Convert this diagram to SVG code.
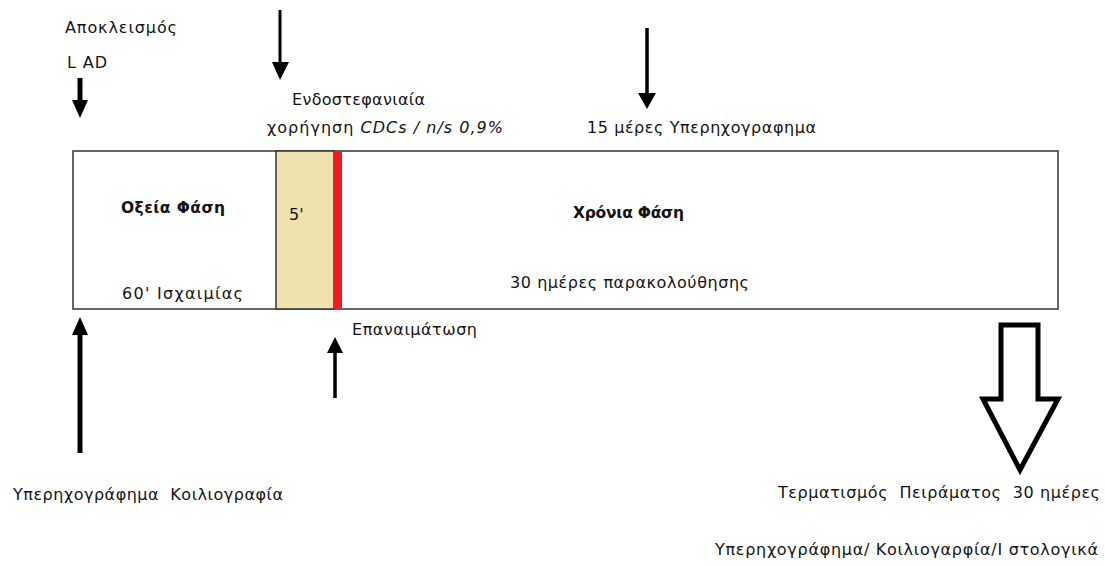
<svg xmlns="http://www.w3.org/2000/svg" width="1105" height="566" viewBox="0 0 1105 566">
<style>
text{font-family:"DejaVu Sans","Noto Sans",sans-serif;font-size:16px;fill:#141414}
.b{font-weight:bold;font-size:15.5px}
.it{font-style:italic}
.frame{fill:#fff;stroke:#333;stroke-width:1.5}
.head{fill:#000}
.shaft{stroke:#000}
</style>
<rect width="1105" height="566" fill="#fff"/>
<g id="timeline">
<rect class="frame" x="73" y="151" width="985" height="158"/>
</g>
<g id="phase-5min">
<rect x="276" y="151" width="58" height="158" fill="#EFE2B0" stroke="#333" stroke-width="1.5"/>
<text x="289" y="220">5'</text>
</g>
<g id="reperfusion-bar">
<rect x="334" y="151" width="8" height="158" fill="#ED1C24"/>
</g>
<g id="acute-phase">
<text class="b" x="121" y="213" textLength="104" lengthAdjust="spacing">Οξεία Φάση</text>
<text x="122" y="299" textLength="121" lengthAdjust="spacing">60' Ισχαιμίας</text>
</g>
<g id="chronic-phase">
<text class="b" x="573" y="218" textLength="111" lengthAdjust="spacing">Χρόνια Φάση</text>
<text x="510" y="288" textLength="239" lengthAdjust="spacing">30 ημέρες παρακολούθησης</text>
</g>
<g id="lad-label">
<text x="65" y="33" textLength="112" lengthAdjust="spacing">Αποκλεισμός</text>
<text x="67" y="68" textLength="40" lengthAdjust="spacing">L AD</text>
</g>
<g id="cdc-label">
<text x="292" y="105" textLength="133" lengthAdjust="spacing">Ενδοστεφανιαία</text>
<text x="267" y="133" textLength="236" lengthAdjust="spacing">χορήγηση <tspan class="it">CDCs / n/s 0,9%</tspan></text>
</g>
<g id="echo15-label">
<text x="587" y="133" textLength="229" lengthAdjust="spacing">15 μέρες Υπερηχογραφημα</text>
</g>
<g id="reperfusion-label">
<text x="352" y="335" textLength="125" lengthAdjust="spacing">Επαναιμάτωση</text>
</g>
<g id="baseline-label">
<text x="13" y="500" textLength="270" lengthAdjust="spacing" xml:space="preserve">Υπερηχογράφημα  Κοιλιογραφία</text>
</g>
<g id="end-label">
<text x="778" y="498" textLength="322" lengthAdjust="spacing" xml:space="preserve">Τερματισμός  Πειράματος  30 ημέρες</text>
<text x="715" y="555" textLength="383" lengthAdjust="spacing">Υπερηχογράφημα/ Κοιλιογαρφία/Ι στολογικά</text>
</g>
<g id="connectors">
<line class="shaft" x1="80" y1="78" x2="80" y2="102" stroke-width="5"/>
<polygon class="head" points="72,100 88,100 80,118"/>
<line class="shaft" x1="280" y1="10" x2="280" y2="64" stroke-width="3"/>
<polygon class="head" points="272,62 289,62 280,80"/>
<line class="shaft" x1="647" y1="28" x2="647" y2="95" stroke-width="3.5"/>
<polygon class="head" points="638,93 656,93 647,109"/>
<line class="shaft" x1="80" y1="453" x2="80" y2="333" stroke-width="5"/>
<polygon class="head" points="72,335 88,335 80,317"/>
<line class="shaft" x1="335" y1="398" x2="335" y2="351" stroke-width="3.5"/>
<polygon class="head" points="327,353 343,353 335,337"/>
<polygon points="1001,325 1038,325 1038,399 1058,399 1020,470 983,399 1001,399" fill="#fff" stroke="#000" stroke-width="5" stroke-linejoin="miter"/>
</g>
</svg>
